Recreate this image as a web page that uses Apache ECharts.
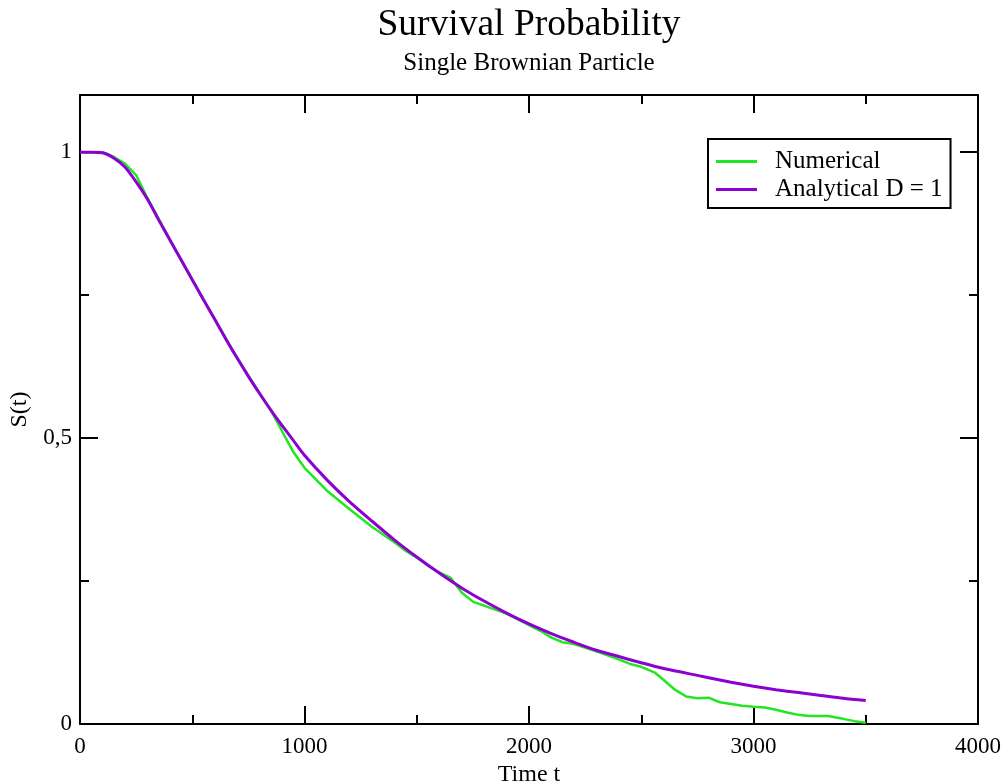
<!DOCTYPE html>
<html>
<head>
<meta charset="utf-8">
<script src="https://cdn.jsdelivr.net/npm/echarts@6/dist/echarts.min.js"></script>
<style>
  html, body { margin: 0; padding: 0; background: #ffffff; }
  #chart { width: 1006px; height: 784px; }
</style>
</head>
<body>
<div id="chart"></div>
<script>
// Simulated survival probability of a single Brownian particle
const timeNumerical = [0, 100, 150, 200, 250, 300, 400, 500, 600, 700, 800, 850, 900, 950, 1000,
  1100, 1200, 1300, 1400, 1450, 1500, 1550, 1600, 1650, 1700, 1750, 1800, 1900, 2000, 2050,
  2100, 2150, 2200, 2300, 2350, 2400, 2450, 2500, 2560, 2600, 2650, 2700, 2750, 2800, 2850,
  2900, 2950, 3000, 3050, 3100, 3150, 3200, 3250, 3330, 3400, 3450, 3500];
const survivalNumerical = [1.0, 1.0, 0.992, 0.980, 0.960, 0.920, 0.847, 0.777, 0.708, 0.640, 0.578, 0.549, 0.512, 0.476, 0.448,
  0.408, 0.376, 0.345, 0.318, 0.303, 0.291, 0.277, 0.265, 0.256, 0.230, 0.214, 0.207, 0.193, 0.173, 0.163,
  0.151, 0.143, 0.140, 0.127, 0.120, 0.113, 0.105, 0.100, 0.090, 0.077, 0.060, 0.048, 0.045, 0.046, 0.038,
  0.035, 0.032, 0.030, 0.029, 0.025, 0.020, 0.016, 0.014, 0.014, 0.009, 0.005, 0.002];

// Analytical survival curve for D = 1
const timeAnalytical = [0, 50, 100, 150, 200, 250, 300, 350, 400, 450, 500, 550, 600, 650, 700, 750,
  800, 850, 900, 950, 1000, 1100, 1200, 1300, 1400, 1500, 1600, 1700, 1800, 1900, 2000, 2100,
  2200, 2300, 2400, 2500, 2600, 2700, 2800, 2900, 3000, 3100, 3200, 3300, 3400, 3500];
const survivalAnalytical = [1.0, 1.0, 0.999, 0.990, 0.974, 0.948, 0.918, 0.882, 0.847, 0.812, 0.777, 0.742, 0.708, 0.673, 0.640, 0.608,
  0.578, 0.549, 0.522, 0.496, 0.470, 0.427, 0.389, 0.355, 0.322, 0.292, 0.264, 0.238, 0.215, 0.194, 0.175, 0.158,
  0.143, 0.129, 0.118, 0.107, 0.097, 0.089, 0.081, 0.073, 0.066, 0.060, 0.055, 0.050, 0.045, 0.041];

const yTickValues = [0, 0.5, 1];
const yTickLabels = ['0', '0,5', '1'];
const xTickValues = [0, 1000, 2000, 3000, 4000];
const xTickLabels = ['0', '1000', '2000', '3000', '4000'];

const seriesNames = ['Numerical', 'Analytical D = 1'];
const seriesColors = ['#22e622', '#8c00d2'];

const FONT = '"Liberation Serif", "DejaVu Serif", serif';

function pairs(xs, ys) {
  return xs.map((x, i) => [x, ys[i]]);
}

function yLabel(v) {
  const i = yTickValues.findIndex(t => Math.abs(t - v) < 1e-9);
  return i >= 0 ? yTickLabels[i] : '';
}
function xLabel(v) {
  const i = xTickValues.findIndex(t => Math.abs(t - v) < 1e-9);
  return i >= 0 ? xTickLabels[i] : '';
}

const X_MIN = 0, X_MAX = 4000, Y_MIN = 0, Y_MAX = 1.1;

function xAxisDef(position, interval, tickLen, withLabels, withLine) {
  return {
    type: 'value', position, min: X_MIN, max: X_MAX, interval,
    splitLine: { show: false },
    axisLine: { show: withLine, onZero: false, lineStyle: { color: '#000', width: 2 } },
    axisTick: { show: true, inside: true, length: tickLen, lineStyle: { color: '#000', width: 2 } },
    axisLabel: withLabels ? {
      show: true, margin: 11, fontFamily: FONT, fontSize: 23, color: '#000',
      formatter: xLabel, showMaxLabel: true, showMinLabel: true
    } : { show: false },
    name: withLabels ? 'Time t' : '',
    nameLocation: 'middle', nameGap: 34,
    nameTextStyle: { fontFamily: FONT, fontSize: 24, color: '#000' }
  };
}
function yAxisDef(position, interval, tickLen, withLabels, withLine) {
  return {
    type: 'value', position, min: Y_MIN, max: Y_MAX, interval,
    splitLine: { show: false },
    axisLine: { show: withLine, onZero: false, lineStyle: { color: '#000', width: 2 } },
    axisTick: { show: true, inside: true, length: tickLen, lineStyle: { color: '#000', width: 2 } },
    axisLabel: withLabels ? {
      show: true, margin: 8, fontFamily: FONT, fontSize: 23, color: '#000',
      padding: [8, 0, 0, 0],
      formatter: yLabel
    } : { show: false },
    name: withLabels ? 'S(t)' : '',
    nameLocation: 'middle', nameGap: 48,
    nameTextStyle: { fontFamily: FONT, fontSize: 24, color: '#000' }
  };
}

const chart = echarts.init(document.getElementById('chart'), null, { renderer: 'canvas' });

chart.setOption({
  backgroundColor: '#ffffff',
  animation: false,
  title: [
    {
      text: 'Survival Probability', left: 524, top: 1, textAlign: 'center',
      textStyle: { fontFamily: FONT, fontSize: 37.5, fontWeight: 'normal', color: '#000' }
    },
    {
      text: 'Single Brownian Particle', left: 524, top: 46, textAlign: 'center',
      textStyle: { fontFamily: FONT, fontSize: 25, fontWeight: 'normal', color: '#000' }
    }
  ],
  grid: { left: 80, right: 28, top: 95, bottom: 60, containLabel: false, outerBoundsMode: 'none' },
  legend: {
    left: 708, top: 139, orient: 'vertical',
    backgroundColor: '#ffffff',
    borderColor: '#000', borderWidth: 2, borderRadius: 0,
    padding: [10, 8, 6, 8],
    itemGap: 3, itemWidth: 41, itemHeight: 3,
    icon: 'rect',
    textStyle: { fontFamily: FONT, fontSize: 25, color: '#000', padding: [0, 0, 0, 13], lineHeight: 25 },
    data: seriesNames
  },
  xAxis: [
    xAxisDef('bottom', 1000, 18, true, true),
    xAxisDef('bottom', 500, 9, false, false),
    xAxisDef('top', 1000, 18, false, true),
    xAxisDef('top', 500, 9, false, false)
  ],
  yAxis: [
    yAxisDef('left', 0.5, 18, true, true),
    yAxisDef('left', 0.25, 9, false, false),
    yAxisDef('right', 0.5, 18, false, true),
    yAxisDef('right', 0.25, 9, false, false)
  ],
  series: [
    {
      name: seriesNames[0], type: 'line', xAxisIndex: 0, yAxisIndex: 0,
      data: pairs(timeNumerical, survivalNumerical),
      showSymbol: false, symbol: 'none',
      lineStyle: { color: seriesColors[0], width: 2.5 },
      itemStyle: { color: seriesColors[0] },
      z: 2
    },
    {
      name: seriesNames[1], type: 'line', xAxisIndex: 0, yAxisIndex: 0,
      data: pairs(timeAnalytical, survivalAnalytical),
      showSymbol: false, symbol: 'none', smooth: 0.25,
      lineStyle: { color: seriesColors[1], width: 3 },
      itemStyle: { color: seriesColors[1] },
      z: 3
    }
  ]
});
</script>
</body>
</html>
